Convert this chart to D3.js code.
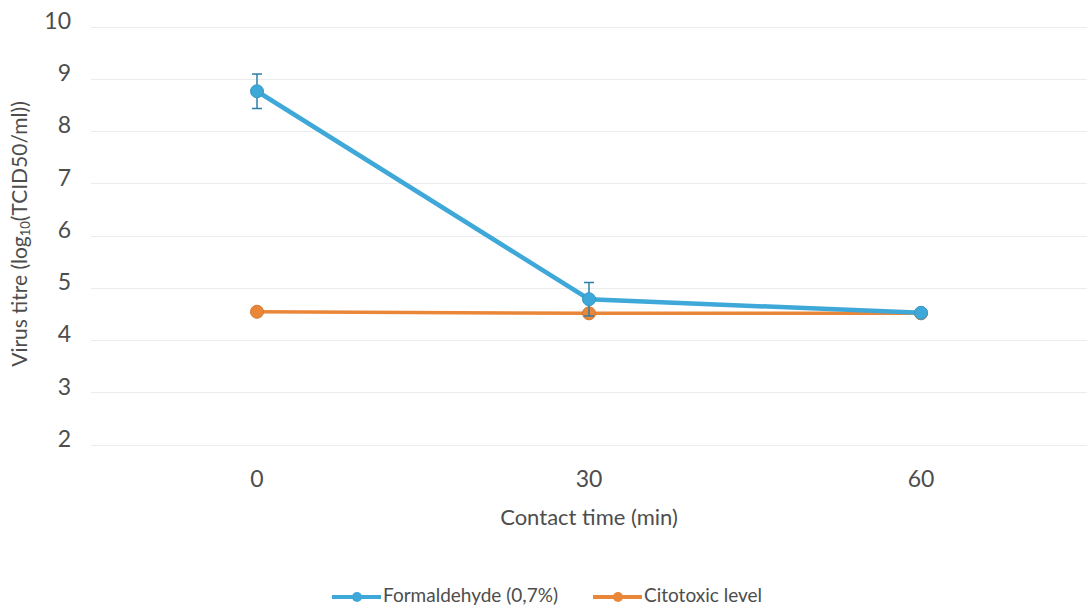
<!DOCTYPE html>
<html>
  <head>
    <meta charset="utf-8">
    <title>Virus titre vs contact time</title>
    <script src="https://cdn.jsdelivr.net/npm/d3@7"></script>
    <style>
      body {
        margin: 0px;
        overflow: hidden;
        background: white;
      }

      text {
        font-family: Lato, "Open Sans", sans-serif;
        fill: #4d4d4d;
      }

      .grid line {
        stroke: #ececec;
        stroke-width: 1px;
        shape-rendering: crispEdges;
      }
    </style>
  </head>
  <body>
    <svg id="container" width="1090" height="606"></svg>

    <script type="text/javascript">
      // data
      var categories = ['0', '30', '60'];
      var formaldehyde = [8.77, 4.79, 4.53];
      var formaldehydeErr = [0.33, 0.32, 0];
      var citotoxic = [4.55, 4.52, 4.52];
      var yTicks = [2, 3, 4, 5, 6, 7, 8, 9, 10];

      var series = [
        { name: 'Formaldehyde (0,7%)', values: formaldehyde, err: formaldehydeErr, color: '#3ea8d8', width: 4.5 },
        { name: 'Citotoxic level', values: citotoxic, err: null, color: '#ea8638', width: 3.5 }
      ];

      var svg = d3.select('#container');

      var x = d3.scaleBand().domain(categories).range([91, 1087]);
      var y = d3.scaleLinear().domain([2, 10]).range([445, 27]);

      /*
        Grid + y labels
      */
      svg.append('g')
        .attr('class', 'grid')
        .selectAll('line')
        .data(yTicks)
        .enter().append('line')
        .attr('x1', 91).attr('x2', 1087)
        .attr('y1', function(d) { return y(d); })
        .attr('y2', function(d) { return y(d); });

      svg.append('g')
        .selectAll('text')
        .data(yTicks)
        .enter().append('text')
        .attr('x', 71)
        .attr('y', function(d) { return y(d) - 4; })
        .attr('text-anchor', 'end')
        .attr('dominant-baseline', 'middle')
        .style('font-size', '23px')
        .text(function(d) { return d; });

      // x labels
      svg.append('g')
        .selectAll('text')
        .data(categories)
        .enter().append('text')
        .attr('x', function(d) { return x(d) + x.bandwidth() / 2; })
        .attr('y', 481)
        .attr('text-anchor', 'middle')
        .attr('dominant-baseline', 'middle')
        .style('font-size', '23px')
        .text(function(d) { return d; });

      // axis titles
      svg.append('text')
        .attr('x', 589).attr('y', 519)
        .attr('text-anchor', 'middle')
        .attr('dominant-baseline', 'middle')
        .style('font-size', '22px')
        .text('Contact time (min)');

      var ytitle = svg.append('text')
        .attr('transform', 'translate(22,234) rotate(-90)')
        .attr('text-anchor', 'middle')
        .attr('dominant-baseline', 'middle')
        .style('font-size', '21px');
      ytitle.append('tspan').text('Virus titre (log');
      ytitle.append('tspan').attr('dy', 5).style('font-size', '13px').text('10');
      ytitle.append('tspan').attr('dy', -5).text('(TCID50/ml))');

      /*
        Lines
      */
      var cx = function(d, i) { return x(categories[i]) + x.bandwidth() / 2; };
      var line = d3.line().x(cx).y(function(d) { return y(d); });

      // orange first so the blue line sits on top
      series.slice().reverse().forEach(function(s) {
        var g = svg.append('g');
        g.append('path')
          .datum(s.values)
          .attr('fill', 'none')
          .attr('stroke', s.color)
          .attr('stroke-width', s.width)
          .attr('d', line);

        if (s.err) {
          s.err.forEach(function(e, i) {
            if (!e) return;
            var px = cx(null, i);
            var top = y(s.values[i] + e), bot = y(s.values[i] - e);
            g.append('line').attr('x1', px).attr('x2', px).attr('y1', top).attr('y2', bot)
              .attr('stroke', '#2c7fa8').attr('stroke-width', 1.5);
            [top, bot].forEach(function(v) {
              g.append('line').attr('x1', px - 5).attr('x2', px + 5).attr('y1', v).attr('y2', v)
                .attr('stroke', '#2c7fa8').attr('stroke-width', 1.5);
            });
          });
        }

        g.selectAll('circle')
          .data(s.values)
          .enter().append('circle')
          .attr('cx', cx)
          .attr('cy', function(d) { return y(d); })
          .attr('r', 6.5)
          .attr('fill', s.color)
          .attr('stroke', d3.color(s.color).darker(0.3))
          .attr('stroke-width', 1);
      });

      /*
        Legend
      */
      var legendX = [332, 593];
      var legend = svg.append('g');
      series.forEach(function(s, i) {
        var lx = legendX[i], ly = 597;
        legend.append('line')
          .attr('x1', lx).attr('x2', lx + 49)
          .attr('y1', ly).attr('y2', ly)
          .attr('stroke', s.color).attr('stroke-width', 4);
        legend.append('circle')
          .attr('cx', lx + 25).attr('cy', ly).attr('r', 5)
          .attr('fill', s.color);
        legend.append('text')
          .attr('x', lx + 51).attr('y', ly)
          .attr('dominant-baseline', 'middle')
          .style('font-size', '19px')
          .text(s.name);
      });
    </script>
  </body>
</html>
